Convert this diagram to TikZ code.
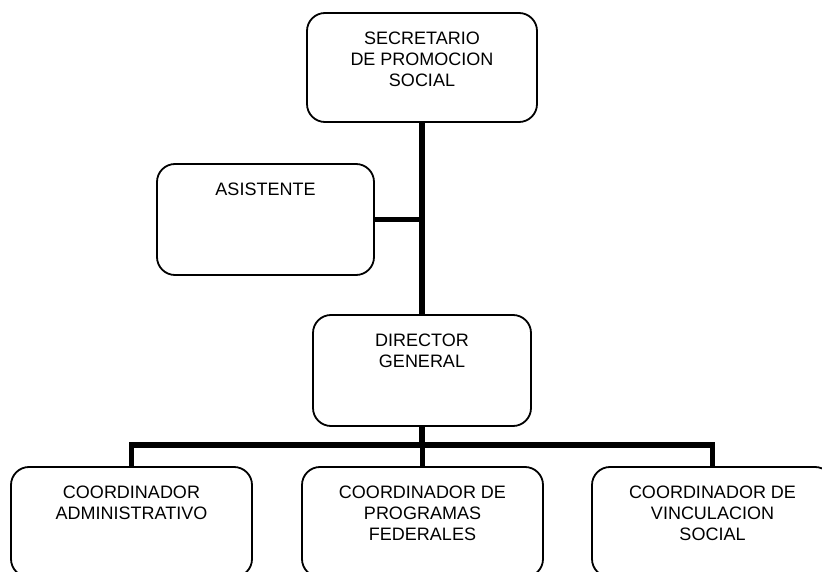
\documentclass[tikz,border=0pt]{standalone}
\usepackage{fontspec}
\setmainfont{Liberation Sans}
\usetikzlibrary{backgrounds}
\begin{document}
\begin{tikzpicture}[x=1pt,y=-1pt,
  orgbox/.style={draw=black, line width=1.8pt, rounded corners=18pt, fill=white, inner sep=0pt, minimum height=110pt},
  orgtext/.style={anchor=north, inner sep=0pt, align=center, font=\fontsize{18}{21}\selectfont},
  conn/.style={line width=5.5pt, line join=miter}]
\useasboundingbox (0,0) rectangle (822,572);
\clip (0,0) rectangle (822,572);
% boxes
\node[orgbox, minimum width=230pt, minimum height=109pt] (sec) at (422,67.5) {};
\node[orgbox, minimum width=217pt, minimum height=111pt] (asis) at (265.5,219.5) {};
\node[orgbox, minimum width=218pt, minimum height=111pt] (dir) at (422,370.5) {};
\node[orgbox, minimum width=241pt] (c1) at (131.5,522) {};
\node[orgbox, minimum width=241pt] (c2) at (422.5,522) {};
\node[orgbox, minimum width=241pt] (c3) at (712.5,522) {};
\coordinate (bar) at (422,445);
% connectors
\begin{scope}[on background layer]
\draw[conn] (sec.south) -- (dir.north);
\draw[conn] (asis.east) -- (asis.east -| sec.south);
\draw[conn] (dir.south) -- (bar);
\draw[conn] (c1.north) -- (c1.north |- bar) -- (c3.north |- bar) -- (c3.north);
\draw[conn] (c2.north) -- (c2.north |- bar);
\end{scope}
% texts
\node[orgtext] (secT) at ([yshift=-19.5pt]sec.north) {SECRETARIO\\DE PROMOCION\\SOCIAL};
\node[orgtext] (asisT) at ([yshift=-19.5pt]asis.north) {ASISTENTE};
\node[orgtext] (dirT) at ([yshift=-19.5pt]dir.north) {DIRECTOR\\GENERAL};
\node[orgtext] (c1T) at ([yshift=-19.5pt]c1.north) {COORDINADOR\\ADMINISTRATIVO};
\node[orgtext] (c2T) at ([yshift=-19.5pt]c2.north) {COORDINADOR DE\\PROGRAMAS\\FEDERALES};
\node[orgtext] (c3T) at ([yshift=-19.5pt]c3.north) {COORDINADOR DE\\VINCULACION\\SOCIAL};
\end{tikzpicture}
\end{document}
